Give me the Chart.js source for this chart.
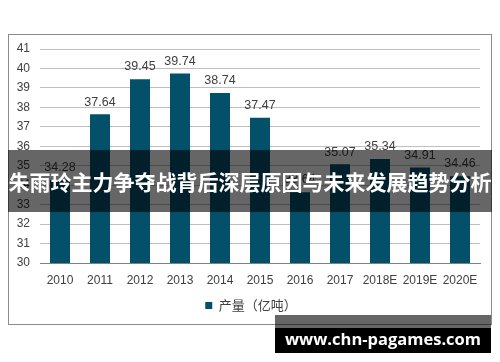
<!DOCTYPE html>
<html>
<head>
<meta charset="utf-8">
<script src="https://cdn.jsdelivr.net/npm/chart.js@4"></script>
<style>
  html, body { margin: 0; padding: 0; background: #fff; }
  #wrap { position: relative; width: 500px; height: 362px; overflow: hidden; }
  #frame { position: absolute; left: 8px; top: 34px; width: 484px; height: 291px; box-sizing: border-box; border: 1px solid #8c8c8c; pointer-events: none; }
  #banner { position: absolute; left: 8px; top: 150px; width: 484px; height: 62px; background: rgba(0,0,0,0.6);
            color: #fff; font: bold 21px "Noto Sans CJK SC", sans-serif; line-height: 62px; text-align: center; white-space: nowrap; letter-spacing: 0px; }
  #wm { position: absolute; left: 275px; top: 315px; width: 216px; height: 38px; }
  #wmTop { position: absolute; left: 0; top: 0; width: 216px; height: 13px; background: rgba(0,0,0,0.6); }
  #wmBody { position: absolute; left: 0; top: 13px; width: 216px; height: 25px; background: #000; }
  #wmText { position: absolute; left: 0; top: 11px; width: 216px; text-align: center; color: #fff; font: bold 16.5px "Open Sans", sans-serif; line-height: 26px; white-space: nowrap; }
</style>
</head>
<body>
<div id="wrap">
  <canvas id="c" width="500" height="362"></canvas>
  <div id="frame"></div>
  <div id="banner">朱雨玲主力争夺战背后深层原因与未来发展趋势分析</div>
  <div id="wm"><div id="wmTop"></div><div id="wmBody"></div><div id="wmText">www.chn-pagames.com</div></div>
</div>
<script>
const categories = ['2010','2011','2012','2013','2014','2015','2016','2017','2018E','2019E','2020E'];
const production = [34.28, 37.64, 39.45, 39.74, 38.74, 37.47, 33.64, 35.07, 35.34, 34.91, 34.46];
const seriesName = '产量（亿吨）';
const yMin = 30, yMax = 41, yStep = 1;

const barColor = '#03506B';
const textColor = '#404040';
const fontFamily = '"Liberation Sans", Arial, "Noto Sans CJK SC", sans-serif';

const valueLabels = {
  id: 'valueLabels',
  afterDatasetsDraw(chart) {
    const ctx = chart.ctx;
    const meta = chart.getDatasetMeta(0);
    ctx.save();
    ctx.font = '12.5px ' + fontFamily;
    ctx.fillStyle = textColor;
    ctx.textAlign = 'center';
    ctx.textBaseline = 'bottom';
    meta.data.forEach((bar, i) => {
      ctx.fillText(production[i].toFixed(2), bar.x, bar.y - 6);
    });
    ctx.restore();
  }
};

const legendShift = {
  id: 'legendShift',
  afterLayout(chart) {
    if (chart.legend) { chart.legend.left += 11; chart.legend.right += 11; }
  }
};

new Chart(document.getElementById('c'), {
  type: 'bar',
  data: {
    labels: categories,
    datasets: [{
      label: seriesName,
      data: production,
      backgroundColor: barColor,
      borderWidth: 0,
      categoryPercentage: 1.0,
      barPercentage: 0.5
    }]
  },
  options: {
    responsive: false,
    animation: false,
    devicePixelRatio: 1,
    layout: { padding: { left: 0, right: 20, top: 49, bottom: 40 } },
    plugins: {
      legend: {
        display: true,
        position: 'bottom',
        labels: {
          boxWidth: 7, boxHeight: 7, padding: 10,
          color: textColor,
          font: { size: 13, family: '"Noto Sans CJK SC", sans-serif' }
        }
      },
      tooltip: { enabled: false }
    },
    scales: {
      x: {
        grid: { display: false, drawTicks: false },
        border: { display: true, color: '#808080', width: 1 },
        ticks: { color: textColor, font: { size: 12, family: fontFamily }, padding: 10, maxRotation: 0, autoSkip: false },
        afterFit(scale) { scale.height = 26; }
      },
      y: {
        min: yMin, max: yMax,
        grid: { color: (c) => c.tick && c.tick.value === yMin ? '#808080' : '#BFBFBF', drawTicks: false, lineWidth: 1 },
        border: { display: false },
        ticks: { stepSize: yStep, color: textColor, font: { size: 12, family: fontFamily }, padding: 10 },
        afterFit(scale) { scale.width = 40; }
      }
    }
  },
  plugins: [valueLabels, legendShift]
});
</script>
</body>
</html>
